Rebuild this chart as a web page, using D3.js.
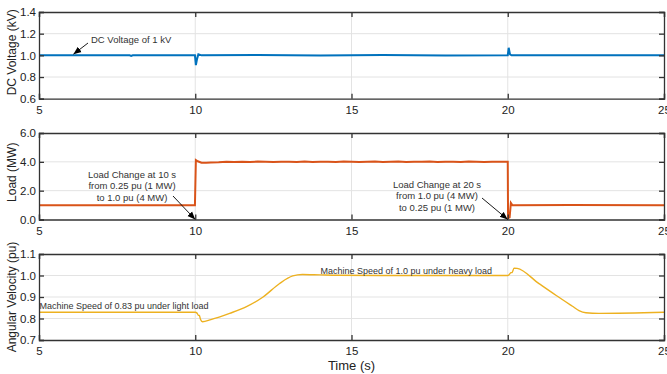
<!DOCTYPE html>
<html>
<head>
<meta charset="utf-8">
<script src="https://cdn.jsdelivr.net/npm/d3@7"></script>
<style>
  body { margin: 0; background: #fff; }
  text { font-family: "Liberation Sans", Arial, sans-serif; }
</style>
</head>
<body>
<script>
// Data
var timeTicks = [5, 10, 15, 20, 25];

var voltTicks = [0.6, 0.8, 1.0, 1.2, 1.4];
var voltTime = [5, 7.9, 7.95, 8.0, 9.99, 10.02, 10.06, 10.1, 10.2, 12, 14, 16, 18, 20.0, 20.03, 20.07, 20.12, 25];
var voltValues = [1.0, 1.0, 0.995, 1.0, 1.0, 0.91, 0.97, 1.01, 1.0, 1.003, 0.999, 1.003, 0.999, 1.0, 1.07, 1.01, 1.0, 1.0];

var loadTicks = [0, 2, 4, 6];
var loadTime = [5, 9.99, 10.02, 10.08, 10.2, 10.35, 10.5, 10.75, 11.0, 11.25, 11.5, 11.75, 12.0, 12.25, 12.5, 12.75,
  13.0, 13.25, 13.5, 13.75, 14.0, 14.25, 14.5, 14.75, 15.0, 15.25, 15.5, 15.75, 16.0, 16.25, 16.5, 16.75,
  17.0, 17.25, 17.5, 17.75, 18.0, 18.25, 18.5, 18.75, 19.0, 19.25, 19.5, 19.75, 20.0, 20.01, 20.06, 20.1, 20.15, 22, 25];
var loadValues = [0.99, 0.99, 4.12, 4.04, 3.94, 3.93, 3.96, 3.97, 4.0, 3.99, 4.01, 3.98, 4.02, 4.0, 3.99, 4.01,
  4.0, 3.98, 4.02, 3.99, 4.0, 4.01, 3.98, 4.02, 4.0, 3.99, 4.01, 4.02, 3.99, 4.0, 4.02, 3.98,
  4.01, 4.0, 4.02, 3.99, 4.0, 4.01, 3.99, 4.02, 4.0, 3.99, 4.01, 4.0, 4.01, 0.1, 0.15, 1.15, 0.98, 1.0, 0.99];

var speedTicks = [0.7, 0.8, 0.9, 1.0, 1.1];
var speedTime = [5, 10.0, 10.05, 10.1, 10.13, 10.17, 10.23, 10.5, 11.1, 11.64, 12.17, 12.7, 13.12, 13.43, 13.98, 14.55, 16,
  20.0, 20.05, 20.1, 20.14, 20.2, 20.3, 21.0, 21.54, 22.07, 22.28, 22.5, 22.92, 25];
var speedValues = [0.829, 0.829, 0.826, 0.815, 0.814, 0.795, 0.785, 0.795, 0.824, 0.855, 0.9, 0.963, 0.998, 1.005, 1.003, 1.001, 1.0,
  1.0, 1.005, 1.013, 1.014, 1.034, 1.033, 0.962, 0.908, 0.857, 0.837, 0.827, 0.824, 0.829];

// SVG area
var svgWidth = 667;
var svgHeight = 374;
var left = 39, right = 664;

var svg = d3.select("body")
  .append("svg")
  .attr("width", svgWidth)
  .attr("height", svgHeight);

svg.append("defs").append("marker")
  .attr("id", "head")
  .attr("viewBox", "0 0 10 10")
  .attr("refX", 10).attr("refY", 5)
  .attr("markerWidth", 8).attr("markerHeight", 8)
  .attr("markerUnits", "userSpaceOnUse")
  .attr("orient", "auto")
  .append("path")
  .attr("d", "M0,1 L10,5 L0,9 Z")
  .attr("fill", "#000");

var xScale = d3.scaleLinear().domain([5, 25]).range([left, right]);

function drawPanel(opt) {
  var y = d3.scaleLinear().domain(opt.domain).range([opt.bottom, opt.top]);
  var g = svg.append("g");

  // grid
  g.selectAll(".gx").data(timeTicks.slice(1, -1)).enter().append("line")
    .attr("x1", d => xScale(d)).attr("x2", d => xScale(d))
    .attr("y1", opt.top).attr("y2", opt.bottom)
    .attr("stroke", "#e3e3e3");
  g.selectAll(".gy").data(opt.ticks.slice(1, -1)).enter().append("line")
    .attr("x1", left).attr("x2", right)
    .attr("y1", d => y(d)).attr("y2", d => y(d))
    .attr("stroke", "#e3e3e3");

  // data line
  var clipId = "clip" + opt.id;
  svg.select("defs").append("clipPath").attr("id", clipId)
    .append("rect").attr("x", left).attr("y", opt.top)
    .attr("width", right - left).attr("height", opt.bottom - opt.top);
  var line = d3.line()
    .x(d => xScale(d[0]))
    .y(d => y(d[1]))
    .curve(opt.curve || d3.curveLinear);
  g.append("path")
    .datum(d3.zip(opt.time, opt.values))
    .attr("clip-path", "url(#" + clipId + ")")
    .attr("fill", "none")
    .attr("stroke", opt.color)
    .attr("stroke-width", opt.width)
    .attr("d", line);

  // axes, ticks inside like matlab
  var fmt = d3.format(".1f");
  var bottomAxis = g.append("g")
    .attr("transform", `translate(0, ${opt.bottom})`)
    .call(d3.axisBottom(xScale).tickValues(timeTicks).tickSize(-5).tickPadding(9).tickFormat(d3.format("d")));
  g.append("g")
    .attr("transform", `translate(0, ${opt.top})`)
    .call(d3.axisTop(xScale).tickValues(timeTicks).tickSize(-5).tickFormat(""));
  g.append("g")
    .attr("transform", `translate(${left}, 0)`)
    .call(d3.axisLeft(y).tickValues(opt.ticks).tickSize(-5).tickPadding(3).tickFormat(fmt));
  g.append("g")
    .attr("transform", `translate(${right}, 0)`)
    .call(d3.axisRight(y).tickValues(opt.ticks).tickSize(-5).tickFormat(""));

  g.selectAll(".domain").attr("stroke", "#333").attr("stroke-width", 1.3);
  g.selectAll(".tick line").attr("stroke", "#333").attr("stroke-width", 1.3);
  g.selectAll(".tick text").attr("fill", "#222").style("font-size", "11.5px")
    .style("font-family", "Liberation Sans, Arial, sans-serif");
  bottomAxis.selectAll(".tick text").attr("dy", "0.55em");

  // y label
  g.append("text")
    .attr("transform", `translate(15.5, ${(opt.top + opt.bottom) / 2 + opt.labelShift}) rotate(-90)`)
    .attr("text-anchor", "middle")
    .style("font-size", "12px")
    .attr("fill", "#222")
    .text(opt.label);

  return y;
}

var yVolt = drawPanel({ id: 1, top: 12, bottom: 98.7, domain: [0.6, 1.4], ticks: voltTicks,
  time: voltTime, values: voltValues, color: "#0072BD", width: 2, label: "DC Voltage (kV)", labelShift: -3 });
var yLoad = drawPanel({ id: 2, top: 133, bottom: 219.5, domain: [0, 6], ticks: loadTicks,
  time: loadTime, values: loadValues, color: "#D95319", width: 2, label: "Load (MW)", labelShift: -4 });
var ySpeed = drawPanel({ id: 3, top: 254, bottom: 340, domain: [0.7, 1.1], ticks: speedTicks,
  time: speedTime, values: speedValues, color: "#EDB120", width: 1.4, label: "Angular Velocity (pu)", labelShift: 0,
  curve: d3.curveMonotoneX });

svg.append("text")
  .attr("x", xScale(15)).attr("y", 370)
  .attr("text-anchor", "middle")
  .style("font-size", "13px")
  .attr("fill", "#222")
  .text("Time (s)");

// annotations
function note(x, y, lines, anchor, size) {
  var t = svg.append("text")
    .attr("text-anchor", anchor)
    .style("font-size", (size || 9.5) + "px")
    .attr("fill", "#333");
  lines.forEach(function(s, i) {
    t.append("tspan").attr("x", x).attr("y", y + i * 11.3).text(s);
  });
}
function arrow(x1, y1, x2, y2) {
  svg.append("line")
    .attr("x1", x1).attr("y1", y1).attr("x2", x2).attr("y2", y2)
    .attr("stroke", "#000").attr("stroke-width", 0.9)
    .attr("marker-end", "url(#head)");
}

note(91, 43, ["DC Voltage of 1 kV"], "start");
arrow(88, 43, xScale(6.1), yVolt(1.01));

note(132, 178, ["Load Change at 10 s", "from 0.25 pu (1 MW)", "to 1.0 pu (4 MW)"], "middle");
arrow(173, 196, xScale(10), yLoad(0));

note(437, 188, ["Load Change at 20 s", "from 1.0 pu (4 MW)", "to 0.25 pu (1 MW)"], "middle");
arrow(482, 198, xScale(20), yLoad(0));

note(39.5, 309, ["Machine Speed of 0.83 pu under light load"], "start", 9);
note(320.5, 273.5, ["Machine Speed of 1.0 pu under heavy load"], "start", 9);
</script>
</body>
</html>
